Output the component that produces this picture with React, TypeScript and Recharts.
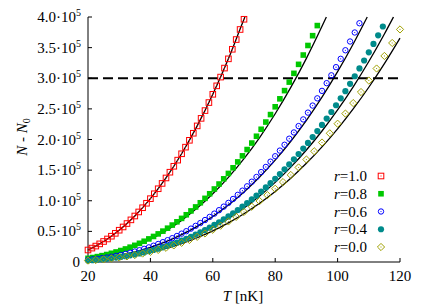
import React from 'react';
import { ComposedChart, Line, Scatter, XAxis, YAxis, ReferenceLine } from 'recharts';

const FONT = '"Liberation Serif", "DejaVu Serif", "Noto Serif", serif';
const textStyle = { fontFamily: FONT, fontSize: 15 };

// N - N0 in units of 10^3
const tempsRed = [20, 21.25, 22.5, 23.75, 25, 26.25, 27.5, 28.75, 30, 31.25, 32.5, 33.75, 35, 36.25, 37.5, 38.75, 40, 41.25, 42.5, 43.75, 45, 46.25, 47.5, 48.75, 50, 51.25, 52.5, 53.75, 55, 56.25, 57.5, 58.75, 60, 61.25, 62.5, 63.75, 65, 66.25, 67.5, 68.75, 70];
const r10 = [19.6, 22.7, 26.0, 29.6, 33.5, 37.6, 42.1, 46.8, 51.9, 57.2, 62.8, 68.8, 75.1, 81.7, 88.6, 95.9, 103.4, 111.4, 119.6, 128.3, 137.2, 146.6, 156.3, 166.3, 176.7, 187.5, 198.7, 210.2, 222.2, 234.5, 247.2, 260.3, 273.8, 287.6, 301.9, 316.6, 331.7, 347.3, 363.2, 379.6, 396.3];

const tempsFine = [20, 21.5, 23, 24.5, 26, 27.5, 29, 30.5, 32, 33.5, 35, 36.5, 38, 39.5, 41, 42.5, 44, 45.5, 47, 48.5, 50, 51.5, 53, 54.5, 56, 57.5, 59, 60.5, 62, 63.5, 65, 66.5, 68, 69.5, 71, 72.5, 74, 75.5, 77, 78.5, 80, 81.5, 83, 84.5, 86, 87.5, 89, 90.5, 92, 93.5, 95, 96.5, 98, 99.5, 101, 102.5, 104, 105.5, 107, 108.5, 110, 111.5, 113, 114.5];
const r08 = [6.0, 7.3, 8.8, 10.4, 12.2, 14.2, 16.4, 18.7, 21.3, 24.2, 27.2, 30.5, 33.9, 37.7, 41.7, 45.9, 50.4, 55.2, 60.3, 65.6, 71.2, 77.1, 83.4, 89.9, 96.7, 103.9, 111.4, 119.2, 127.3, 135.8, 144.6, 153.8, 163.4, 173.3, 183.6, 194.2, 205.3, 216.7, 228.5, 240.7, 253.4, 266.4, 279.8, 293.7, 308.0, 322.7, 337.9, 353.5, 369.5, 386.0];
const r06 = [3.6, 4.4, 5.3, 6.3, 7.4, 8.7, 10.1, 11.6, 13.3, 15.1, 17.1, 19.2, 21.5, 23.9, 26.6, 29.4, 32.4, 35.6, 38.9, 42.5, 46.3, 50.3, 54.5, 59.0, 63.6, 68.5, 73.6, 79.0, 84.6, 90.4, 96.5, 102.9, 109.6, 116.5, 123.6, 131.1, 138.8, 146.8, 155.2, 163.8, 172.7, 181.9, 191.4, 201.3, 211.5, 221.9, 232.8, 243.9, 255.4, 267.2, 279.4, 292.0, 304.8, 318.1, 331.7, 345.7, 360.0, 374.7, 389.8];
const r04 = [2.4, 3.0, 3.7, 4.4, 5.2, 6.1, 7.2, 8.3, 9.5, 10.9, 12.4, 14.0, 15.7, 17.6, 19.6, 21.7, 24.0, 26.5, 29.1, 31.8, 34.8, 37.9, 41.2, 44.7, 48.3, 52.2, 56.2, 60.5, 64.9, 69.6, 74.4, 79.5, 84.9, 90.4, 96.2, 102.2, 108.4, 114.9, 121.7, 128.7, 135.9, 143.5, 151.3, 159.3, 167.7, 176.3, 185.2, 194.4, 203.9, 213.7, 223.8, 234.2, 244.9, 255.9, 267.3, 278.9, 290.9, 303.3, 316.0, 329.0, 342.3, 356.0, 370.1, 384.5];

const tempsCoarse = [20, 22.5, 25, 27.5, 30, 32.5, 35, 37.5, 40, 42.5, 45, 47.5, 50, 52.5, 55, 57.5, 60, 62.5, 65, 67.5, 70, 72.5, 75, 77.5, 80, 82.5, 85, 87.5, 90, 92.5, 95, 97.5, 100, 102.5, 105, 107.5, 110, 112.5, 115, 117.5, 120];
const r00 = [2.3, 3.2, 4.3, 5.7, 7.3, 9.2, 11.3, 13.8, 16.6, 19.7, 23.2, 27.1, 31.3, 36.0, 41.1, 46.6, 52.7, 59.2, 66.2, 73.7, 81.7, 90.3, 99.5, 109.2, 119.6, 130.5, 142.1, 154.4, 167.3, 180.8, 195.1, 210.1, 225.8, 242.3, 259.5, 277.5, 296.3, 315.9, 336.4, 357.6, 379.7];

// fitted curves (black lines)
const fitT10 = [20, 25, 30, 35, 40, 45, 50, 55, 60, 65, 70, 70.3];
const fitN10 = [19.6, 33.5, 51.9, 75.1, 103.4, 137.2, 176.7, 222.2, 273.8, 331.7, 396.3, 400];
const fitT08 = [20, 25, 30, 35, 40, 45, 50, 55, 60, 65, 70, 75, 80, 85, 90, 95, 96.4];
const fitN08 = [5.7, 10.5, 17.1, 26.0, 37.2, 51.2, 68.0, 88.0, 111.3, 138.1, 168.7, 203.2, 242.0, 285.0, 332.5, 384.8, 400];
const fitT06 = [20, 25, 30, 35, 40, 45, 50, 55, 60, 65, 70, 75, 80, 85, 90, 95, 100, 105, 109.5];
const fitN06 = [3.4, 6.4, 10.7, 16.5, 23.9, 33.2, 44.6, 58.2, 74.3, 92.9, 114.4, 138.8, 166.3, 197.1, 231.2, 269.1, 310.7, 356.0, 400];
const fitT04 = [20, 25, 30, 35, 40, 45, 50, 55, 60, 65, 70, 75, 80, 85, 90, 95, 100, 105, 110, 115, 117.9];
const fitN04 = [2.3, 4.5, 7.6, 11.8, 17.4, 24.5, 33.3, 43.8, 56.4, 71.2, 88.2, 107.8, 130.0, 154.9, 182.9, 213.9, 248.2, 286.0, 327.3, 372.3, 400];
const fitT00 = [20, 25, 30, 35, 40, 45, 50, 55, 60, 65, 70, 75, 80, 85, 90, 95, 100, 105, 110, 115, 120];
const fitN00 = [2.2, 4.1, 7.0, 10.9, 16.0, 22.3, 30.1, 39.6, 50.7, 63.8, 78.7, 95.8, 115.2, 136.8, 161.1, 187.9, 217.4, 249.9, 285.3, 323.9, 365.6];

const xTicks = [20, 40, 60, 80, 100, 120];
const yTicks = [0, 50, 100, 150, 200, 250, 300, 350, 400];
const threshold = 300;
const labels = ['1.0', '0.8', '0.6', '0.4', '0.0'];

const pts = (ts: number[], ns: number[]) => ns.map((n, i) => ({ T: ts[i], N: n }));

const RED = '#ff0000';
const GREEN = '#00c800';
const BLUE = '#0000ff';
const TEAL = '#008b8b';
const OLIVE = '#a0a000';

const openSquare = (c: string) => (p: any) => (
  <g>
    <rect x={p.cx - 2.8} y={p.cy - 2.8} width={5.6} height={5.6} fill="none" stroke={c} strokeWidth={1} />
    <rect x={p.cx - 0.5} y={p.cy - 0.5} width={1} height={1} fill={c} />
  </g>
);
const fullSquare = (c: string) => (p: any) => (
  <rect x={p.cx - 2.8} y={p.cy - 2.8} width={5.6} height={5.6} fill={c} />
);
const openCircle = (c: string) => (p: any) => (
  <g>
    <circle cx={p.cx} cy={p.cy} r={2.7} fill="none" stroke={c} strokeWidth={1} />
    <circle cx={p.cx} cy={p.cy} r={0.6} fill={c} />
  </g>
);
const fullCircle = (c: string) => (p: any) => <circle cx={p.cx} cy={p.cy} r={3.1} fill={c} />;
const openDiamond = (c: string) => (p: any) => (
  <g>
    <path d={`M${p.cx},${p.cy - 3.6}L${p.cx + 3.6},${p.cy}L${p.cx},${p.cy + 3.6}L${p.cx - 3.6},${p.cy}Z`} fill="none" stroke={c} strokeWidth={1} />
    <rect x={p.cx - 0.5} y={p.cy - 0.5} width={1} height={1} fill={c} />
  </g>
);

const series = [
  { data: pts(tempsRed, r10), shape: openSquare(RED) },
  { data: pts(tempsFine, r08), shape: fullSquare(GREEN) },
  { data: pts(tempsFine, r06), shape: openCircle(BLUE) },
  { data: pts(tempsFine, r04), shape: fullCircle(TEAL) },
  { data: pts(tempsCoarse, r00), shape: openDiamond(OLIVE) },
];
const fits = [pts(fitT10, fitN10), pts(fitT08, fitN08), pts(fitT06, fitN06), pts(fitT04, fitN04), pts(fitT00, fitN00)];

const XTick = ({ x, y, payload }: any) => (
  <text x={x} y={y} dy={19} textAnchor="middle" fontFamily={FONT} fontSize={15} fill="#000">
    {payload.value}
  </text>
);

const YTick = ({ x, y, payload }: any) => {
  const v = payload.value;
  if (v === 0) {
    return (
      <text x={x - 1} y={y} dy={5} textAnchor="end" fontFamily={FONT} fontSize={15} fill="#000">0</text>
    );
  }
  return (
    <text x={x} y={y} dy={5} textAnchor="end" fontFamily={FONT} fontSize={15} fill="#000">
      {(v / 100).toFixed(1)}·10<tspan fontSize={10} dy={-6}>5</tspan>
    </text>
  );
};

export default function App() {
  return (
    <div style={{ position: 'absolute', left: 0, top: 0, width: 425, height: 306, background: '#fff', fontFamily: FONT }}>
      <ComposedChart width={425} height={306} margin={{ top: 17, right: 25, bottom: 0, left: 0 }} style={{ fontFamily: FONT }}>
        <XAxis
          dataKey="T"
          type="number"
          domain={[20, 120]}
          ticks={xTicks}
          height={44}
          stroke="#000"
          tickSize={-4}
          tickMargin={4}
          tick={<XTick />}
        />
        <XAxis xAxisId="top" orientation="top" dataKey="T" type="number" domain={[20, 120]} ticks={xTicks} height={0} stroke="#000" tickSize={-4} tick={false} />
        <YAxis
          dataKey="N"
          type="number"
          domain={[0, 400]}
          ticks={yTicks}
          width={88}
          stroke="#000"
          tickSize={-4}
          tickMargin={11}
          tick={<YTick />}
        />
        <YAxis yAxisId="right" orientation="right" dataKey="N" type="number" domain={[0, 400]} ticks={yTicks} width={0} stroke="#000" tickSize={-4} tick={false} />
        <ReferenceLine y={threshold} stroke="#000" strokeWidth={2} strokeDasharray="10 5" />
        {series.map((s, i) => (
          <Scatter key={'s' + i} data={s.data} dataKey="N" shape={s.shape} isAnimationActive={false} />
        ))}
        {fits.map((f, i) => (
          <Line key={'f' + i} data={f} dataKey="N" type="monotone" stroke="#000" strokeWidth={1.3} dot={false} activeDot={false} isAnimationActive={false} />
        ))}
      </ComposedChart>
      <svg width={425} height={306} style={{ position: 'absolute', left: 0, top: 0, pointerEvents: 'none' }} fontFamily={FONT} fontSize={15}>
        <text transform="rotate(-90 27 137)" x={27} y={137} textAnchor="middle" fill="#000">
          <tspan fontStyle="italic">N</tspan> - <tspan fontStyle="italic">N</tspan>
          <tspan fontSize={10} dy={3}>0</tspan>
        </text>
        <text x={243} y={301} textAnchor="middle" fill="#000">
          <tspan fontStyle="italic">T</tspan> [nK]
        </text>
        {labels.map((l, i) => {
          const cy = 176 + i * 17.75;
          return (
            <g key={l}>
              <text x={367} y={cy + 5} textAnchor="end" fill="#000">
                <tspan fontStyle="italic">r</tspan>={l}
              </text>
              {series[i].shape({ cx: 381, cy })}
            </g>
          );
        })}
      </svg>
    </div>
  );
}
